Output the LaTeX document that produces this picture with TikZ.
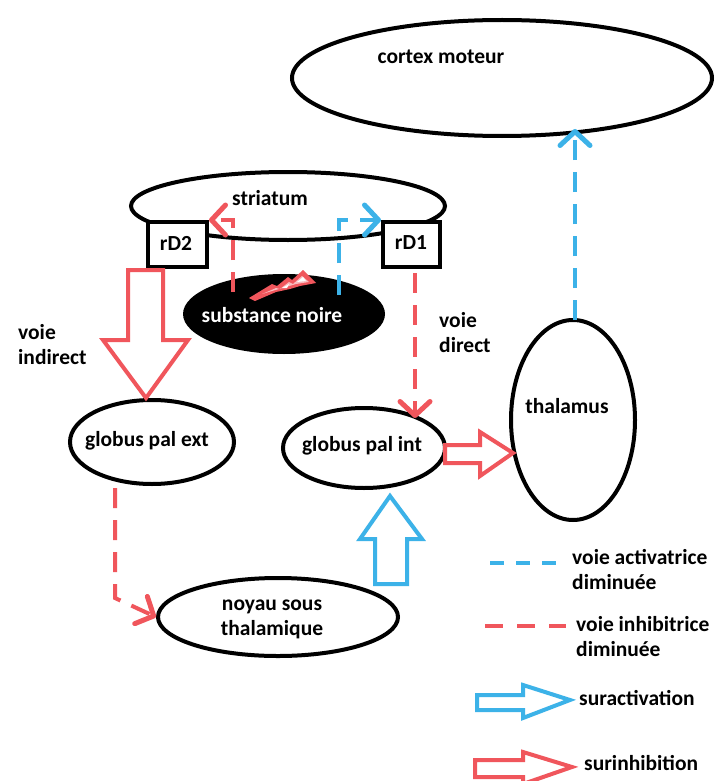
\documentclass[tikz,border=0pt]{standalone}
\usepackage{fontspec}
\setmainfont{Carlito}
\usetikzlibrary{shapes.geometric,arrows.meta}
\definecolor{myred}{RGB}{240,86,92}
\definecolor{myblue}{RGB}{60,178,232}
\begin{document}
\begin{tikzpicture}[x=1pt,y=-1pt,
  lbl/.style={font=\fontsize{21.5}{25}\selectfont\bfseries, inner sep=0pt},
  lblw/.style={lbl, anchor=west},
  oval/.style={ellipse, draw=black, line width=4pt, fill=white, inner sep=0pt},
  rbox/.style={rectangle, draw=black, line width=4pt, fill=white, inner sep=0pt, minimum width=59pt, minimum height=45pt},
  reddash/.style={draw=myred, line width=4pt, dash pattern=on 20pt off 12pt},
  bluedash/.style={draw=myblue, line width=4pt, dash pattern=on 20pt off 12pt},
  tipv/.style={-{Straight Barb[length=14pt,width=30pt,line width=5pt 0,round]}},
  harrow/.style={line width=4pt, fill=white, line join=miter},
]
\useasboundingbox (0,0) rectangle (716,781);
\fill[white] (0,0) rectangle (716,781);

% ellipses
\node[oval, minimum width=420pt, minimum height=116pt] (cortex) at (502,78) {};
\node[lbl] (tcortex) at (441,57) {cortex moteur};

\node[oval, minimum width=314pt, minimum height=68pt] (str) at (288,206) {};
\node[lbl] (tstr) at (270,198) {striatum};

\node[rbox] (rD2) at (177.5,244.5) {};
\node[lbl] (trD2) at (176,243) {rD2};
\node[rbox, minimum width=57pt] (rD1) at (411.5,244.5) {};
\node[lbl] (trD1) at (411,243) {rD1};

\node[ellipse, fill=black, inner sep=0pt, minimum width=202pt, minimum height=80pt] (sn) at (284,314) {};
\node[lbl, text=white] (tsn) at (272,315) {substance noire};

\node[oval, minimum width=164pt, minimum height=84pt] (gpe) at (152,442) {};
\node[lbl] (tgpe) at (147,441) {globus pal ext};

\node[oval, minimum width=162pt, minimum height=80pt] (gpi) at (364,448) {};
\node[lbl] (tgpi) at (362,446) {globus pal int};

\node[oval, minimum width=124pt, minimum height=200pt] (thal) at (573,420) {};
\node[lbl] (tthal) at (567,406) {thalamus};

\node[oval, minimum width=240pt, minimum height=78pt] (nst) at (278,617) {};
\node[lbl, align=center] (tnst) at (272,619) {noyau sous\\thalamique};

% side labels
\node[lblw, align=left] (tind) at (18,345) {voie\\indirect};
\node[lblw, align=left] (tdir) at (439,333) {voie\\direct};

% dashed connectors
\coordinate (sr) at (233,292);
\coordinate (sb) at (339,295);
\draw[reddash,tipv] (sr) |- (rD2.north east);
\draw[bluedash,tipv] (sb) |- (rD1.north west);

\coordinate (d1) at (415,273);
\coordinate (d2) at (415,418);
\draw[reddash,tipv] (d1) -- (d2);

\coordinate (g1) at (115,488);
\coordinate (g2) at (115,598);
\draw[reddash,tipv] (g1) -- (g2) -- (nst.west);

\coordinate (c1) at (575,320);
\coordinate (c2) at (575,129);
\draw[bluedash,tipv] (c1) -- (c2);

% hollow arrows
\draw[harrow, draw=myred] (128,270) -- (163,270) -- (163,340) -- (188,340) -- (146,398) -- (103,340) -- (128,340) -- cycle;
\draw[harrow, draw=myblue] (375,584) -- (375,539) -- (360,539) -- (390,496) -- (422,539) -- (407,539) -- (407,584) -- cycle;
\draw[harrow, draw=myred] (445,445) -- (480,445) -- (480,432) -- (513,453) -- (480,476) -- (480,463) -- (445,463) -- cycle;

% lightning
\fill[myred] (249,298) -- (272,284) -- (277,286) -- (288,277) -- (292,280) -- (303,270) -- (316,283) -- (300,286) -- (290,289) -- (276,292) -- (255,301) -- cycle;
\fill[white!60!myred] (262,294) -- (276,288) -- (280,289) -- (289,282) -- (293,284) -- (302,276) -- (309,282) -- (296,284) -- (286,287) -- (272,291) -- cycle;
\fill[white] (282,288) -- (289,284) -- (287,288) -- cycle;
\fill[white] (297,282) -- (303,277) -- (306,281) -- cycle;

% legend
\coordinate (lb1) at (490,563);
\coordinate (lb2) at (556,563);
\draw[bluedash, dash pattern=on 14pt off 12pt] (lb1) -- (lb2);
\node[lblw, align=left] (tla) at (572,570) {voie activatrice\\diminuée};
\coordinate (lr1) at (485,626);
\coordinate (lr2) at (566,626);
\draw[reddash, dash pattern=on 18pt off 14pt] (lr1) -- (lr2);
\node[lblw, align=left] (tli) at (576,637) {voie inhibitrice\\diminuée};
\draw[harrow, draw=myblue] (477,695) -- (523,695) -- (523,685) -- (570,700) -- (523,718) -- (523,710) -- (477,710) -- cycle;
\node[lblw] (tsa) at (579,698) {suractivation};
\draw[harrow, draw=myred] (475,760) -- (523,760) -- (523,752) -- (572,767) -- (523,784) -- (523,777) -- (475,777) -- cycle;
\node[lblw] (tsi) at (584,763) {surinhibition};
\end{tikzpicture}
\end{document}
